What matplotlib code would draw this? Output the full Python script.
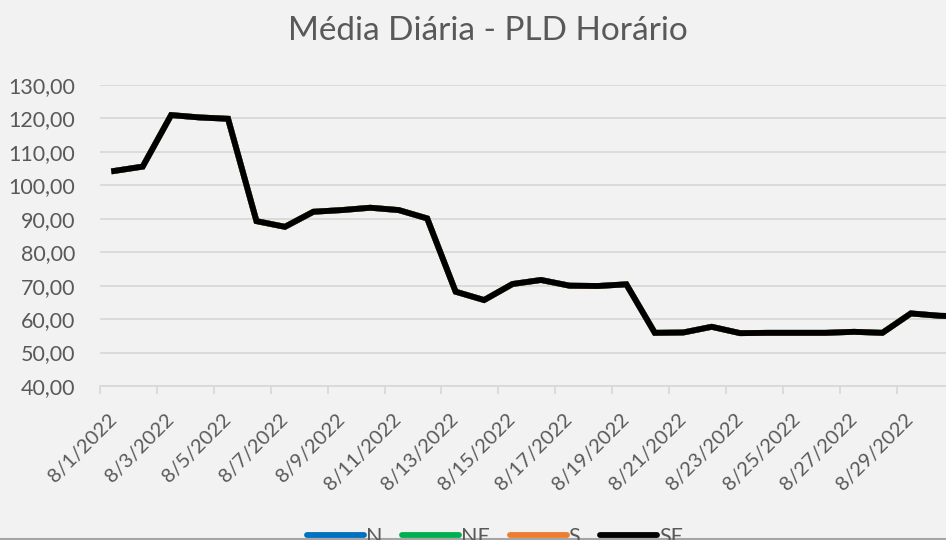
"""Média Diária - PLD Horário (agosto/2022), linha por submercado."""
import matplotlib

matplotlib.use("Agg")
import matplotlib.pyplot as plt
import matplotlib.transforms as mtransforms
import pandas as pd
from matplotlib.lines import Line2D
from matplotlib.ticker import FixedLocator, FuncFormatter

# dados (R$/MWh, média diária)
days = list(range(1, 32))
pld_se = [104.3, 105.6, 121.0, 120.3, 119.9, 89.3, 87.6, 92.1, 92.6, 93.3,
          92.6, 90.1, 68.2, 65.7, 70.5, 71.7, 70.0, 69.9, 70.4, 55.9,
          56.0, 57.7, 55.8, 55.9, 55.9, 55.9, 56.2, 55.9, 61.7, 61.0, 60.8]
# os quatro submercados ficaram iguais no mês
pld_n = pld_se
pld_ne = pld_se
pld_s = pld_se
series_names = ["N", "NE", "S", "SE"]
series_colors = ["#0070C0", "#00B050", "#ED7D31", "#000000"]
date_labels = [d.strftime("%-m/%-d/%Y") for d in pd.date_range("2022-08-01", "2022-08-31")]

GRAY = "#595959"
GRID = "#D9D9D9"
BG = "#F2F2F2"

plt.rcParams["font.family"] = ["Lato", "DejaVu Sans"]

fig = plt.figure(figsize=(9.46, 5.40), dpi=100, facecolor=BG)
# a área de plotagem passa da borda direita (o original está cortado)
ax = fig.add_axes([100 / 946, 1 - 386 / 540, 882 / 946, 301 / 540])
ax.set_facecolor(BG)

for name, values, color in zip(series_names, [pld_n, pld_ne, pld_s, pld_se], series_colors):
    ax.plot(days, values, color=color, lw=4.2, solid_joinstyle="miter", label=name)

ax.set_xlim(0.5, 31.5)
ax.set_ylim(40, 130)
ax.set_yticks(range(40, 131, 10))
ax.yaxis.set_major_formatter(FuncFormatter(lambda v, _: f"{v:.2f}".replace(".", ",")))
ax.grid(axis="y", color=GRID, lw=1.3)
ax.set_axisbelow(True)

# o rótulo de 8/31 fica fora do quadro no original
ax.set_xticks(days[:30:2])
ax.set_xticklabels(date_labels[:30:2], rotation=45, ha="right", va="center",
                   rotation_mode="anchor")
shift = mtransforms.ScaledTranslation(8 / 100, 0, fig.dpi_scale_trans)
for lbl in ax.get_xticklabels():
    lbl.set_transform(lbl.get_transform() + shift)
ax.xaxis.set_minor_locator(FixedLocator([d - 0.5 for d in days[::2]] + [31.5]))
ax.tick_params(axis="x", which="major", length=0, pad=22, labelsize=14.5, labelcolor=GRAY)
ax.tick_params(axis="x", which="minor", length=6, width=1.3, color=GRID)
ax.tick_params(axis="y", length=0, pad=18, labelsize=15.5, labelcolor=GRAY)
for side in ["top", "right", "left"]:
    ax.spines[side].set_visible(False)
ax.spines["bottom"].set_color(GRID)
ax.spines["bottom"].set_linewidth(1.3)

fig.text(488 / 946, 1 - 31 / 540, "Média Diária - PLD Horário", ha="center", va="center",
         fontsize=24, color=GRAY)

handles = [Line2D([], [], color=c, lw=4.2, solid_capstyle="round") for c in series_colors]
fig.legend(handles, series_names, loc="center", bbox_to_anchor=(495 / 946, 3 / 540),
           ncol=4, frameon=False, fontsize=15.5, labelcolor=GRAY, handlelength=2.65,
           handletextpad=0.1, columnspacing=0.9)

# borda inferior do quadro
fig.add_artist(Line2D([0, 1], [0.001, 0.001], color="#A6A6A6", lw=1.5,
                      transform=fig.transFigure))

fig.savefig("out.png", dpi=100, facecolor=BG)
